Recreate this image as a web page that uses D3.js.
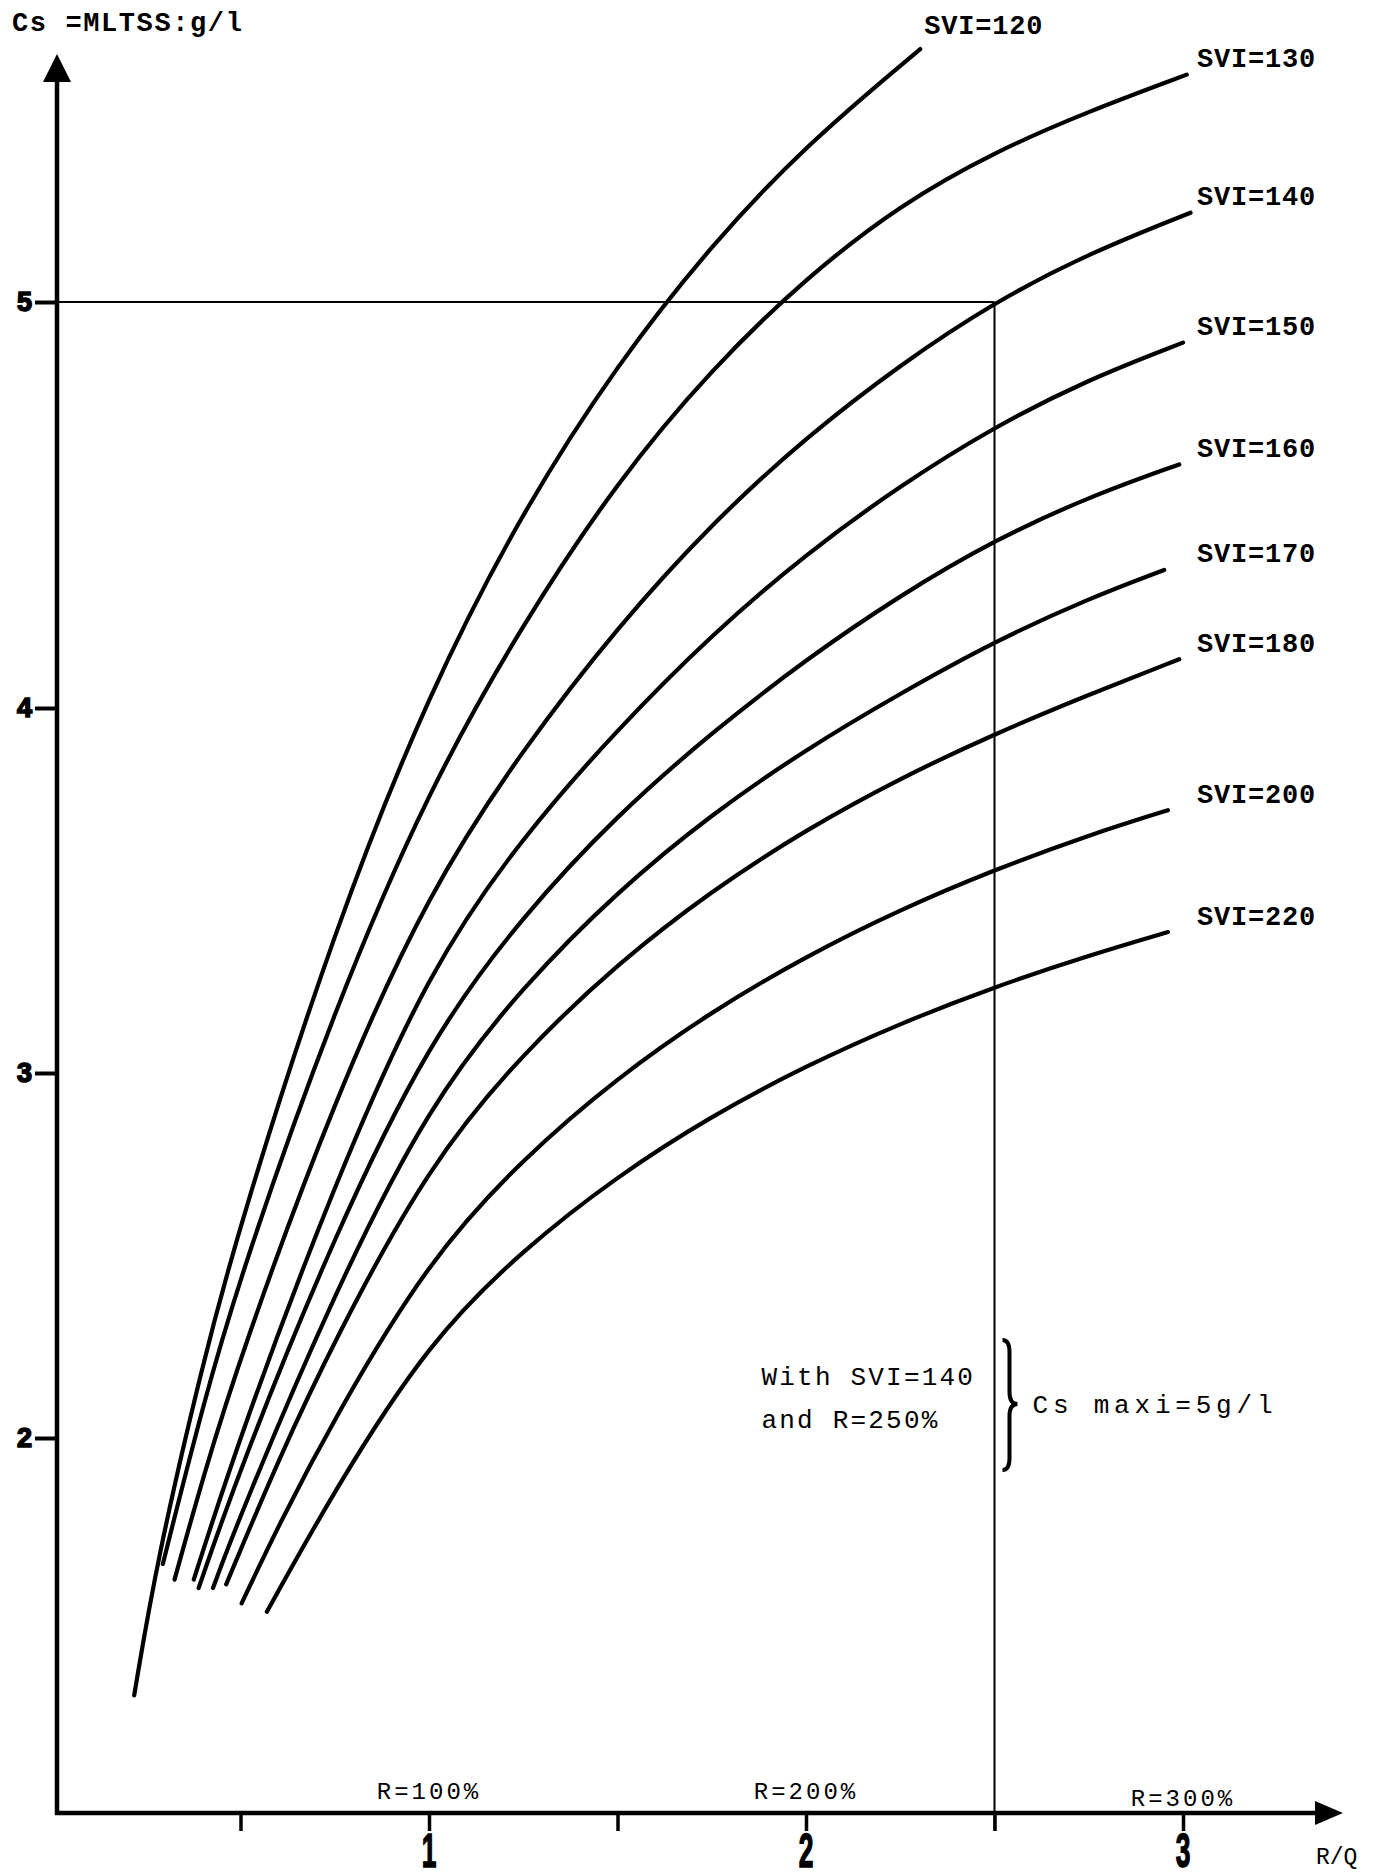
<!DOCTYPE html>
<html>
<head>
<meta charset="utf-8">
<script src="https://cdn.jsdelivr.net/npm/d3@7"></script>
<style>
  body { margin: 0; background: #fff; }
  svg { display: block; background: #fff; }
  .mono { font-family: "Liberation Mono", "Courier New", monospace; fill: #000; }
</style>
</head>
<body>
<svg id="chart"></svg>
<script>
const width = 1387;
const height = 1876;

// curves: [R/Q, Cs g/l]
const svi120 = [[0.218,1.295],[0.278,1.664],[0.4,2.206],[0.5,2.593],[0.75,3.399],[1.0,4.04],[1.25,4.489],[1.5,4.848],[1.75,5.142],[2.0,5.387],[2.303,5.623]];
const svi130 = [[0.294,1.655],[0.4,2.089],[0.5,2.448],[0.75,3.181],[1.0,3.78],[1.25,4.21],[1.5,4.56],[1.75,4.836],[2.0,5.06],[2.25,5.24],[2.5,5.37],[2.75,5.47],[3.01,5.56]];
const svi140 = [[0.325,1.612],[0.4,1.891],[0.5,2.227],[0.75,2.932],[1.0,3.5],[1.25,3.889],[1.5,4.2],[1.75,4.455],[2.0,4.667],[2.25,4.846],[2.5,5.0],[2.75,5.12],[3.02,5.22]];
const svi150 = [[0.376,1.612],[0.5,2.011],[0.75,2.701],[1.0,3.285],[1.25,3.65],[1.5,3.942],[1.75,4.181],[2.0,4.38],[2.25,4.548],[2.5,4.693],[2.75,4.81],[3.0,4.9]];
const svi160 = [[0.389,1.589],[0.5,1.921],[0.75,2.559],[1.0,3.09],[1.25,3.433],[1.5,3.708],[1.75,3.933],[2.0,4.12],[2.25,4.278],[2.5,4.414],[2.75,4.52],[2.99,4.6]];
const svi170 = [[0.427,1.589],[0.5,1.792],[0.75,2.401],[1.0,2.915],[1.25,3.239],[1.5,3.498],[1.75,3.71],[2.0,3.887],[2.25,4.036],[2.5,4.164],[2.75,4.27],[2.95,4.34]];
const svi180 = [[0.462,1.599],[0.6,1.94],[0.75,2.27],[1.0,2.75],[1.25,3.056],[1.5,3.3],[1.75,3.5],[2.0,3.667],[2.25,3.808],[2.5,3.929],[2.75,4.033],[2.99,4.12]];
const svi200 = [[0.503,1.547],[0.6,1.759],[0.75,2.057],[1.0,2.49],[1.25,2.767],[1.5,2.988],[1.75,3.169],[2.0,3.32],[2.25,3.448],[2.5,3.557],[2.75,3.652],[2.96,3.72]];
const svi220 = [[0.57,1.524],[0.75,1.859],[1.0,2.265],[1.25,2.517],[1.5,2.718],[1.75,2.883],[2.0,3.02],[2.25,3.136],[2.5,3.236],[2.75,3.322],[2.96,3.386]];

const sviValues = [120, 130, 140, 150, 160, 170, 180, 200, 220];
const sviCurves = [svi120, svi130, svi140, svi150, svi160, svi170, svi180, svi200, svi220];

const yTicks = [2, 3, 4, 5];
const xTicks = [0.5, 1, 1.5, 2, 2.5, 3];
const xLabelTicks = [1, 2, 3];
const rLabels = ["R=100%", "R=200%", "R=300%"];
const operating = { rq: 2.5, cs: 5 };   // SVI=140, R=250%

const axisX = 57;      // where the vertical axis sits
const axisY = 1813;    // where the horizontal axis sits

const svg = d3.select("#chart")
  .attr("width", width)
  .attr("height", height)
  .attr("viewBox", `0 0 ${width} ${height}`);

const x = d3.scaleLinear().domain([0, 3]).range([52, 1183]);
// the printed y axis is hand ruled and not evenly spaced
const y = d3.scaleLinear().domain([2, 3, 4, 5]).range([1438, 1073, 708, 302]);

// ---- axes ----
svg.append("line")
  .attr("x1", axisX).attr("x2", axisX)
  .attr("y1", axisY + 2).attr("y2", 74)
  .attr("stroke", "#000").attr("stroke-width", 4.5);
svg.append("path")
  .attr("d", `M${axisX},54 L${axisX - 14},82 L${axisX + 14},82 Z`)
  .attr("fill", "#000");

svg.append("line")
  .attr("x1", axisX - 2).attr("x2", 1322)
  .attr("y1", axisY).attr("y2", axisY)
  .attr("stroke", "#000").attr("stroke-width", 4.5);
svg.append("path")
  .attr("d", `M1343,${axisY} L1315,${axisY - 12} L1315,${axisY + 12} Z`)
  .attr("fill", "#000");

const yAxis = svg.append("g")
  .attr("transform", `translate(${axisX},0)`)
  .call(d3.axisLeft(y).tickValues(yTicks).tickSize(22).tickPadding(3).tickFormat(d3.format("d")));
yAxis.select(".domain").remove();
yAxis.selectAll(".tick line").attr("stroke", "#000").attr("stroke-width", 4);
yAxis.selectAll(".tick text")
  .attr("font-family", "'Liberation Sans', Arial, sans-serif")
  .attr("font-weight", "bold")
  .attr("font-size", 27)
  .attr("stroke", "#000").attr("stroke-width", 1.6)
  .attr("fill", "#000");

const xAxis = svg.append("g")
  .attr("transform", `translate(0,${axisY})`)
  .call(d3.axisBottom(x).tickValues(xTicks).tickSize(18).tickFormat(""));
xAxis.select(".domain").remove();
xAxis.selectAll(".tick line").attr("stroke", "#000").attr("stroke-width", 3.5);

svg.selectAll(".xnum")
  .data(xLabelTicks)
  .enter().append("text")
  .attr("class", "xnum")
  .attr("transform", d => `translate(${x(d)},1867) scale(0.55,1)`)
  .attr("text-anchor", "middle")
  .attr("font-family", "'Liberation Sans', Arial, sans-serif")
  .attr("font-weight", "bold")
  .attr("font-size", 48)
  .attr("stroke", "#000").attr("stroke-width", 1.5)
  .text(d => d);

svg.selectAll(".rlab")
  .data(rLabels)
  .enter().append("text")
  .attr("class", "rlab mono")
  .attr("x", (d, i) => x(xLabelTicks[i]))
  .attr("y", (d, i) => i === 2 ? 1806 : 1799)
  .attr("text-anchor", "middle")
  .attr("font-size", 24)
  .attr("letter-spacing", 3)
  .text(d => d);

svg.append("text")
  .attr("class", "mono")
  .attr("x", 1316).attr("y", 1864)
  .attr("font-size", 23)
  .text("R/Q");

svg.append("text")
  .attr("class", "mono")
  .attr("x", 12).attr("y", 31)
  .attr("font-size", 27)
  .attr("font-weight", "bold")
  .attr("letter-spacing", 1.6)
  .text("Cs =MLTSS:g/l");

// ---- operating point guide lines ----
svg.append("line")
  .attr("x1", axisX).attr("x2", x(operating.rq))
  .attr("y1", y(operating.cs)).attr("y2", y(operating.cs))
  .attr("stroke", "#000").attr("stroke-width", 2);
svg.append("line")
  .attr("x1", x(operating.rq)).attr("x2", x(operating.rq))
  .attr("y1", y(operating.cs)).attr("y2", axisY + 18)
  .attr("stroke", "#000").attr("stroke-width", 2);

// ---- curves ----
const line = d3.line()
  .x(d => x(d[0]))
  .y(d => y(d[1]))
  .curve(d3.curveBasis);

svg.selectAll(".svi")
  .data(sviCurves)
  .enter().append("path")
  .attr("class", "svi")
  .attr("d", line)
  .attr("fill", "none")
  .attr("stroke", "#000")
  .attr("stroke-width", 4.2)
  .attr("stroke-linecap", "round")
  .attr("stroke-linejoin", "round");

svg.selectAll(".svilab")
  .data(sviCurves)
  .enter().append("text")
  .attr("class", "svilab mono")
  .attr("x", (d, i) => i === 0 ? x(d[d.length - 1][0]) + 4 : x(3) + 14)
  .attr("y", (d, i) => y(d[d.length - 1][1]) - (i === 0 ? 25 : 17))
  .attr("dy", "0.35em")
  .attr("font-size", 27)
  .attr("font-weight", "bold")
  .attr("letter-spacing", 0.8)
  .text((d, i) => `SVI=${sviValues[i]}`);

// ---- annotation ----
const noteX = x(operating.rq) - 233;
svg.append("text")
  .attr("class", "mono")
  .attr("x", noteX).attr("y", 1385)
  .attr("font-size", 26)
  .attr("letter-spacing", 2.2)
  .text("With SVI=140");
svg.append("text")
  .attr("class", "mono")
  .attr("x", noteX).attr("y", 1428)
  .attr("font-size", 26)
  .attr("letter-spacing", 2.2)
  .text("and R=250%");

const bx = x(operating.rq) + 8;
svg.append("path")
  .attr("d", `M${bx},1340 Q${bx + 7},1340 ${bx + 7},1352 L${bx + 7},1392 Q${bx + 7},1404 ${bx + 15},1404 ` +
             `Q${bx + 7},1404 ${bx + 7},1416 L${bx + 7},1458 Q${bx + 7},1470 ${bx},1470`)
  .attr("fill", "none")
  .attr("stroke", "#000")
  .attr("stroke-width", 4);

svg.append("text")
  .attr("class", "mono")
  .attr("x", bx + 30).attr("y", 1413)
  .attr("font-size", 26)
  .attr("letter-spacing", 4.8)
  .text("Cs maxi=5g/l");
</script>
</body>
</html>
